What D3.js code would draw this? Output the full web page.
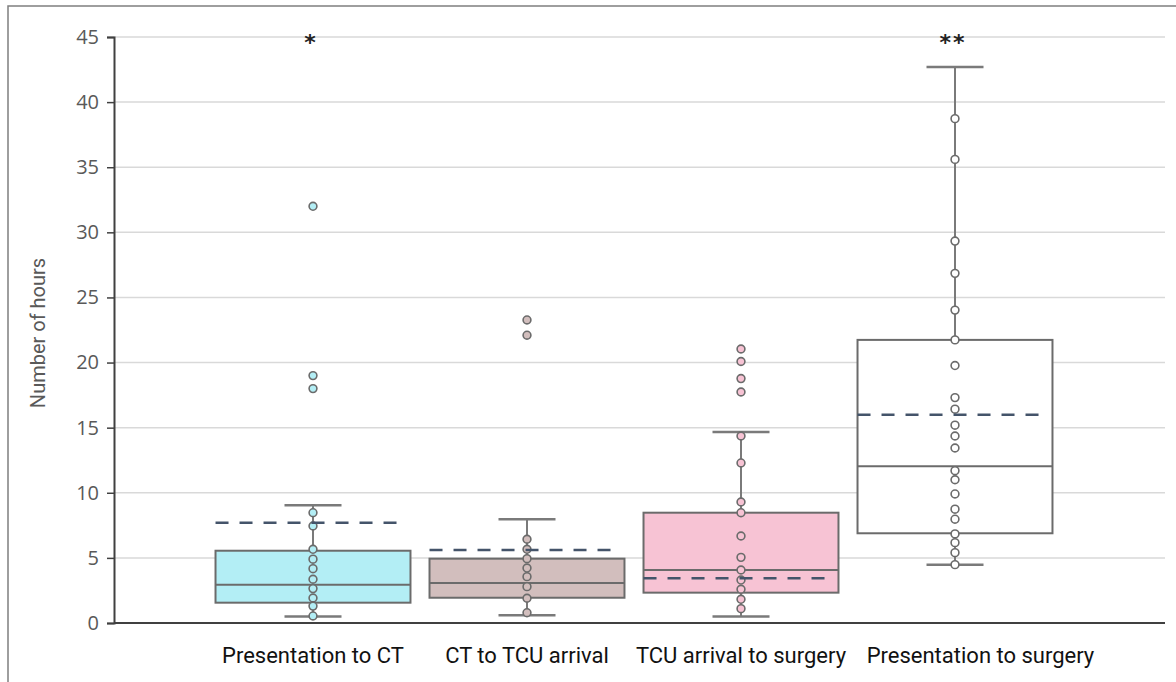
<!DOCTYPE html>
<meta charset="utf-8">
<style>
body { margin: 0; background: #fff; }
.grid line { stroke: #d9d9d9; stroke-width: 1.5; }
.axis text { font: 20px "Open Sans", sans-serif; fill: #595959; }
.cat { font: 22px "Roboto", sans-serif; fill: #111; }
</style>
<svg id="plot" width="1176" height="682"></svg>
<script src="https://d3js.org/d3.v7.min.js"></script>
<script>

var categories = ["Presentation to CT", "CT to TCU arrival", "TCU arrival to surgery", "Presentation to surgery"];
var q1 = [1.56, 1.94, 2.33, 6.89];
var medians = [2.94, 3.07, 4.07, 12.03];
var q3 = [5.55, 4.94, 8.47, 21.74];
var whiskerLow = [0.49, 0.6, 0.49, 4.48];
var whiskerHigh = [9.04, 7.96, 14.67, 42.7];
var means = [7.7, 5.6, 3.43, 16.0];
var marks = ["*", "", "", "**"];
var fills = ["#b3eef5", "#d2bebd", "#f7c3d4", "#ffffff"];

var points = [
  [32.0, 19.0, 18.0, 8.47, 7.45, 5.66, 4.9, 4.17, 3.36, 2.64, 1.92, 1.3, 0.54],
  [23.27, 22.1, 6.43, 5.66, 4.94, 4.22, 3.56, 2.79, 1.9, 0.79],
  [21.04, 20.08, 18.77, 17.74, 14.36, 12.29, 9.29, 8.47, 6.68, 5.04, 4.07, 3.3, 2.59, 1.82, 1.1],
  [38.73, 35.6, 29.33, 26.85, 24.03, 21.74, 19.77, 17.31, 16.42, 15.19, 14.36, 13.44, 11.7, 11.0, 9.91, 8.74, 7.97, 6.84, 6.17, 5.4, 4.48]
];

var yTicks = [0, 5, 10, 15, 20, 25, 30, 35, 40, 45];

var svg = d3.select("svg");

// outer frame
svg.append("rect")
    .attr("x", 8).attr("y", 6).attr("width", 1200).attr("height", 700)
    .attr("fill", "none").attr("stroke", "#7f7f7f").attr("stroke-width", 1.5);

var y = d3.scaleLinear().domain([0, 45]).range([623, 37]);
var x = d3.scaleBand().domain(categories).range([206, 1062])
    .paddingInner(0.089).paddingOuter(0.0445);

var axisLeft = 114, axisRight = 1165;

svg.append("g").attr("class", "grid")
  .selectAll("line").data(yTicks.slice(1)).enter().append("line")
    .attr("x1", axisLeft).attr("x2", axisRight)
    .attr("y1", function(d) { return y(d); })
    .attr("y2", function(d) { return y(d); });

var yAxis = svg.append("g")
    .attr("class", "axis")
    .attr("transform", "translate(" + axisLeft + ",0)")
    .call(d3.axisLeft(y).tickValues(yTicks).tickSize(7).tickPadding(8));
yAxis.select(".domain").attr("stroke", "#404040").attr("stroke-width", 2);
yAxis.selectAll(".tick line").attr("stroke", "#404040").attr("stroke-width", 1.5);

svg.append("text")
    .attr("transform", "translate(45," + 333 + ") rotate(-90)")
    .attr("text-anchor", "middle")
    .style("font", "20px Roboto, sans-serif")
    .style("fill", "#595959")
    .text("Number of hours");

var bw = x.bandwidth();

var g = svg.selectAll(".box").data(categories).enter().append("g").attr("class", "box");

function cx(i) { return x(categories[i]) + bw / 2; }

g.each(function(c, i) {
  var s = d3.select(this);
  var capHalf = 28.5;
  // whiskers
  s.append("line").attr("x1", cx(i)).attr("x2", cx(i))
    .attr("y1", y(q3[i])).attr("y2", y(whiskerHigh[i]))
    .attr("stroke", "#7a7a7a").attr("stroke-width", 2);
  s.append("line").attr("x1", cx(i)).attr("x2", cx(i))
    .attr("y1", y(q1[i])).attr("y2", y(whiskerLow[i]))
    .attr("stroke", "#7a7a7a").attr("stroke-width", 2);
  [whiskerHigh[i], whiskerLow[i]].forEach(function(v) {
    s.append("line").attr("x1", cx(i) - capHalf).attr("x2", cx(i) + capHalf)
      .attr("y1", y(v)).attr("y2", y(v))
      .attr("stroke", "#7a7a7a").attr("stroke-width", 2.5);
  });
  // box
  s.append("rect")
    .attr("x", x(c)).attr("y", y(q3[i]))
    .attr("width", bw).attr("height", y(q1[i]) - y(q3[i]))
    .attr("fill", fills[i]).attr("stroke", "#6b6b6b").attr("stroke-width", 2);
  s.append("line")
    .attr("x1", x(c)).attr("x2", x(c) + bw)
    .attr("y1", y(medians[i])).attr("y2", y(medians[i]))
    .attr("stroke", "#6b6b6b").attr("stroke-width", 2);
  // points
  s.selectAll("circle").data(points[i]).enter().append("circle")
    .attr("cx", cx(i))
    .attr("cy", function(d) { return y(d); })
    .attr("r", 3.9)
    .attr("fill", fills[i])
    .attr("stroke", "#6b6b6b").attr("stroke-width", 1.6);
  // mean
  s.append("line")
    .attr("x1", x(c)).attr("x2", x(c) + bw - 8)
    .attr("y1", y(means[i])).attr("y2", y(means[i]))
    .attr("stroke", "#44546a").attr("stroke-width", 2.5)
    .attr("stroke-dasharray", "13,11");
  // significance
  if (marks[i]) {
    s.append("text")
      .attr("x", cx(i) - 2).attr("y", 50)
      .attr("text-anchor", "middle")
      .attr("letter-spacing", 2)
      .style("font", "bold 22px 'DejaVu Sans', sans-serif")
      .style("fill", "#222")
      .text(marks[i]);
  }
});

// x axis line
svg.append("line")
    .attr("x1", axisLeft).attr("x2", axisRight)
    .attr("y1", y(0)).attr("y2", y(0))
    .attr("stroke", "#404040").attr("stroke-width", 2);

var labels = svg.selectAll(".cat").data(categories).enter().append("text")
    .attr("class", "cat")
    .attr("x", function(d) { return x(d) + bw / 2; })
    .attr("y", 663)
    .attr("text-anchor", "middle")
    .text(function(d) { return d; });

// push labels right where they would overlap the previous one
var lastRight = -Infinity;
labels.each(function() {
  var t = d3.select(this), b = this.getBBox();
  if (b.x < lastRight + 20) {
    t.attr("x", +t.attr("x") + (lastRight + 20 - b.x));
    b = this.getBBox();
  }
  lastRight = b.x + b.width;
});

</script>
